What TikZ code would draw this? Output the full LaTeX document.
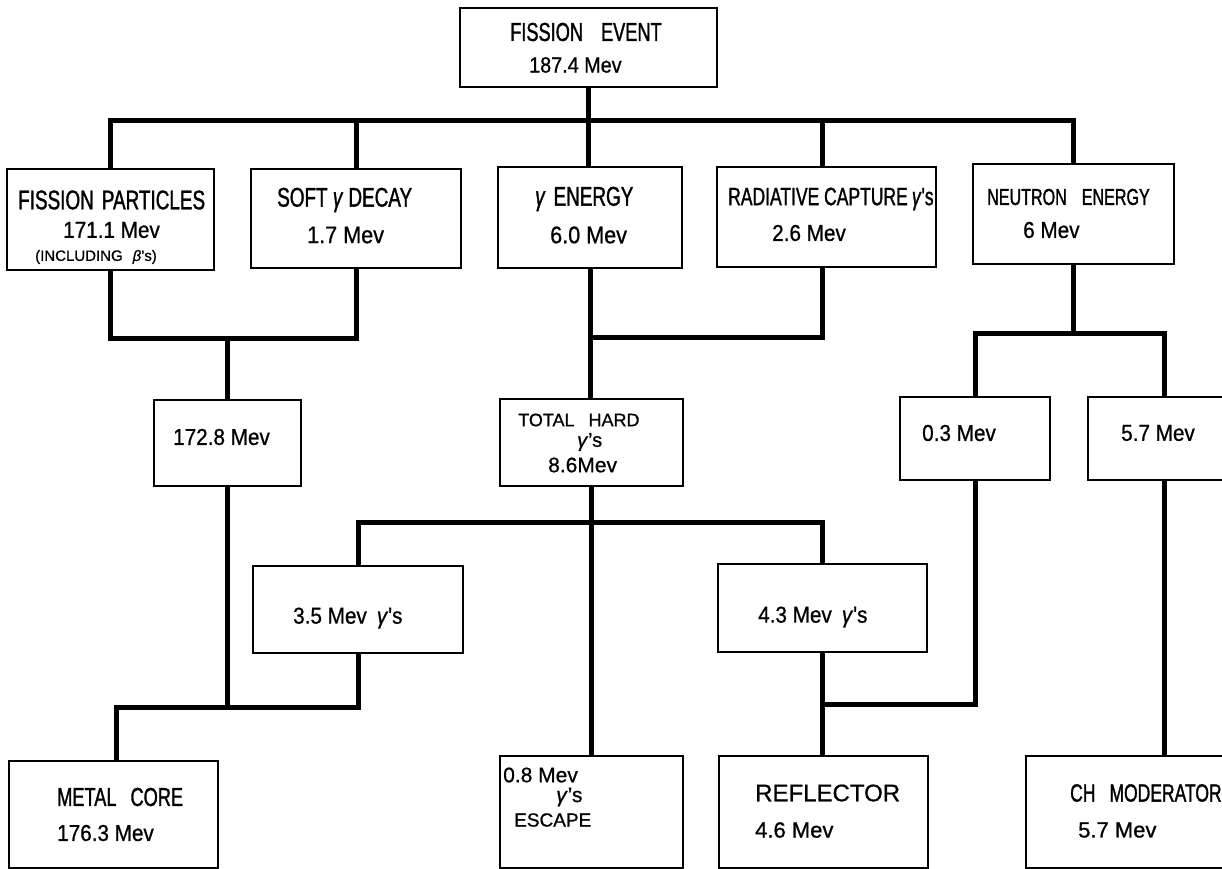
\documentclass[tikz,border=0pt]{standalone}
\usepackage{fontspec}
\setmainfont{Liberation Sans}[FakeBold=0.8]
\newfontfamily\cf{Liberation Sans}[FakeStretch=0.7,FakeBold=1.2]
\newfontfamily\rf{Liberation Sans}[FakeStretch=0.9,FakeBold=0.8]
\newcommand\fsz[1]{\fontsize{#1}{#1}\selectfont}
\newcommand\gm{\textit{γ}}
\begin{document}
\begin{tikzpicture}[x=1pt,y=-1pt,
  box/.style={draw, line width=2.4pt, inner sep=0pt, anchor=north west},
  conn/.style={line width=5pt},
  txt/.style={anchor=west, inner sep=0pt}]
\clip (0,0) rectangle (1222,869);
\fill[white] (0,0) rectangle (1222,869);
% boxes
\node[box, minimum width=257pt, minimum height=79pt]  (fe)   at (459,7) {};
\node[box, minimum width=207pt, minimum height=101pt] (fp)   at (6,168) {};
\node[box, minimum width=210pt, minimum height=99pt]  (soft) at (250,168) {};
\node[box, minimum width=184pt, minimum height=101pt] (gam)  at (497,166) {};
\node[box, minimum width=219pt, minimum height=100pt] (rc)   at (716,166) {};
\node[box, minimum width=201pt, minimum height=100pt] (ne)   at (972,163) {};
\node[box, minimum width=147pt, minimum height=86pt]  (m172) at (153,399) {};
\node[box, minimum width=183pt, minimum height=87pt]  (th)   at (499,398) {};
\node[box, minimum width=150pt, minimum height=83pt]  (n03)  at (899,396) {};
\node[box, minimum width=153pt, minimum height=83pt]  (n57)  at (1087,396) {};
\node[box, minimum width=210pt, minimum height=87pt]  (g35)  at (252,565) {};
\node[box, minimum width=209pt, minimum height=88pt]  (g43)  at (717,563) {};
\node[box, minimum width=209pt, minimum height=107pt] (mc)   at (8,760) {};
\node[box, minimum width=183pt, minimum height=112pt] (esc)  at (499,755) {};
\node[box, minimum width=209pt, minimum height=112pt] (refl) at (718,755) {};
\node[box, minimum width=215pt, minimum height=112pt] (ch)   at (1025,755) {};
% helper coordinates
\coordinate (b1) at (0,121);
\coordinate (b2) at (0,338);
\coordinate (b3) at (0,337);
\coordinate (b4) at (0,333);
\coordinate (b5) at (0,522);
\coordinate (b6) at (0,707);
\coordinate (b7) at (0,704);
\coordinate (rcN) at ([xshift=-4pt]rc.north);
\coordinate (rcS) at ([xshift=-4pt]rc.south);
\coordinate (mcN) at ([xshift=3pt]mc.north);
% connectors
\draw[conn] (fp.north) -- (fp.north |- b1) -- (ne.north |- b1) -- (ne.north);
\draw[conn] (soft.north) -- (soft.north |- b1);
\draw[conn] (fe.south) -- (fe.south |- gam.north);
\draw[conn] (rcN) -- (rcN |- b1);
\draw[conn] (fp.south) -- (fp.south |- b2) -- (soft.south |- b2) -- (soft.south);
\draw[conn] (m172.north |- b2) -- (m172.north);
\draw[conn] (gam.south) -- (gam.south |- th.north);
\draw[conn] (gam.south |- b3) -- (rcS |- b3) -- (rcS);
\draw[conn] (ne.south) -- (ne.south |- b4);
\draw[conn] (n03.north) -- (n03.north |- b4) -- (n57.north |- b4) -- (n57.north);
\draw[conn] (th.south) -- (th.south |- esc.north);
\draw[conn] (g35.north) -- (g35.north |- b5) -- (g43.north |- b5) -- (g43.north);
\draw[conn] (m172.south) -- (m172.south |- b6);
\draw[conn] (g35.south) -- (g35.south |- b6) -- (mcN |- b6) -- (mcN);
\draw[conn] (g43.south) -- (g43.south |- refl.north);
\draw[conn] (n03.south) -- (n03.south |- b7) -- (g43.south |- b7);
\draw[conn] (n57.south) -- (n57.south |- ch.north);
% texts
\node[txt, font=\cf\fsz{26}] (fe1) at (510,32) {FISSION\hspace{18pt}EVENT};
\node[txt, font=\rf\fsz{22}] (fe2) at (529,65) {187.4 Mev};
\node[txt, font=\cf\fsz{27}] (fp1) at (18,200) {FISSION\hspace{8pt}PARTICLES};
\node[txt, font=\rf\fsz{23}] (fp2) at (63,230) {171.1 Mev};
\node[txt, font=\fsz{15}] (fp3) at (35,257) {(INCLUDING\hspace{10pt}\textit{β}'s)};
\node[txt, font=\cf\fsz{27}] (so1) at (277,200) {SOFT \gm\ DECAY};
\node[txt, font=\rf\fsz{24}] (so2) at (307,235) {1.7 Mev};
\node[txt, font=\cf\fsz{27}] (ga1) at (535,199) {\gm\hspace{8pt}ENERGY};
\node[txt, font=\rf\fsz{24}] (ga2) at (550,235) {6.0 Mev};
\node[txt, font=\cf\fsz{25}] (rc1) at (728,199) {RADIATIVE CAPTURE\,\gm's};
\node[txt, font=\rf\fsz{23}] (rc2) at (772,233) {2.6 Mev};
\node[txt, font=\cf\fsz{23}] (ne1) at (987,197) {NEUTRON\hspace{15pt}ENERGY};
\node[txt, font=\rf\fsz{23}] (ne2) at (1023,230) {6 Mev};
\node[txt, font=\rf\fsz{23}] (m1) at (173,437) {172.8 Mev};
\node[txt, font=\fsz{18}] (th1) at (518,420) {TOTAL\hspace{14pt}HARD};
\node[txt, font=\fsz{20}] (th2) at (577,442) {\gm's};
\node[txt, font=\fsz{21}] (th3) at (548,465) {8.6Mev};
\node[txt, font=\rf\fsz{23}] (g35t) at (293,618) {3.5 Mev\hspace{10pt}\gm's};
\node[txt, font=\rf\fsz{23}] (g43t) at (758,617) {4.3 Mev\hspace{10pt}\gm's};
\node[txt, font=\rf\fsz{23}] (n03t) at (922,433) {0.3 Mev};
\node[txt, font=\rf\fsz{23}] (n57t) at (1121,433) {5.7 Mev};
\node[txt, font=\fsz{24}] (re1) at (755,793) {REFLECTOR};
\node[txt, font=\fsz{22}] (re2) at (755,830) {4.6 Mev};
\node[txt, font=\cf\fsz{25}] (ch1) at (1070,793) {CH\hspace{14pt}MODERATOR};
\node[txt, font=\fsz{22}] (ch2) at (1078,830) {5.7 Mev};
\node[txt, font=\cf\fsz{26}] (mc1) at (57,797) {METAL\hspace{14pt}CORE};
\node[txt, font=\rf\fsz{23}] (mc2) at (57,833) {176.3 Mev};
\node[txt, font=\fsz{21}] (es1) at (503,775) {0.8 Mev};
\node[txt, font=\fsz{21}] (es2) at (556,797) {\gm's};
\node[txt, font=\fsz{19}] (es3) at (514,820) {ESCAPE};
\end{tikzpicture}
\end{document}
